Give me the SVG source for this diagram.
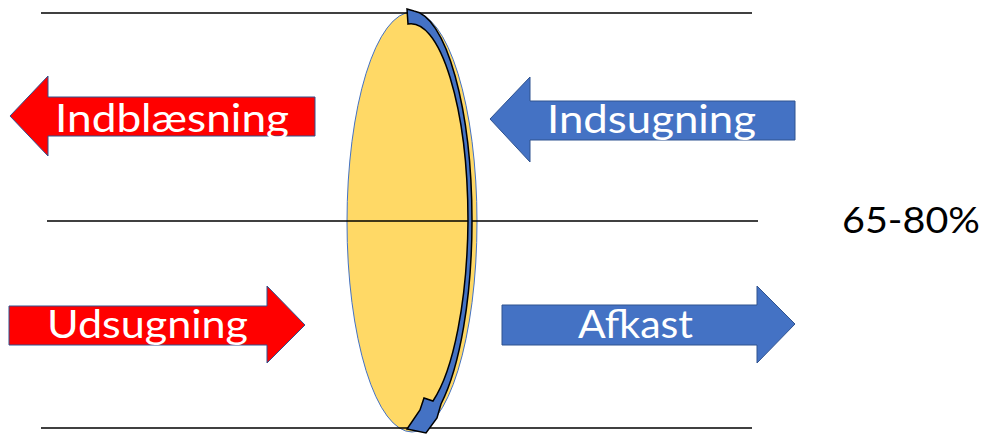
<svg xmlns="http://www.w3.org/2000/svg" width="987" height="435" viewBox="0 0 987 435">
<style>
.line{stroke:#000;stroke-width:1.3;fill:none}
.red{fill:#FF0000;stroke:#2F528F;stroke-width:1}
.blue{fill:#4472C4;stroke:#2F528F;stroke-width:1}
.lbl{font-family:Lato,"Open Sans",sans-serif;font-size:38px;fill:#fff}
.pct{font-family:Lato,"Open Sans",sans-serif;font-size:37px;fill:#000}
</style>
<rect width="987" height="435" fill="#fff"/>
<g id="lens">
<ellipse cx="412" cy="222" rx="65" ry="210" fill="#FFD966" stroke="#4472C4" stroke-width="1"/>
</g>
<g id="connectors">
<line class="line" x1="41" y1="13" x2="752" y2="13"/>
<line class="line" x1="47" y1="221" x2="758" y2="221"/>
<line class="line" x1="41" y1="428" x2="752" y2="428"/>
</g>
<g id="curved-arrow">
<path d="M407,9 L414,11 A61 211 0 0 1 472,221 A61 211 0 0 1 441,404 L437,418 L426,433 L407,429 L420,410 L424,398 L433,401 A57 202 0 0 0 468,221 A57 198 0 0 0 408,24 Z" fill="#4472C4" stroke="#000" stroke-width="1.5" stroke-linejoin="miter"/>
</g>
<g id="indblaesning">
<polygon class="red" points="10,116 48,76 48,97 315,97 315,136 48,136 48,156"/>
<text class="lbl" x="55" y="132" textLength="234" lengthAdjust="spacingAndGlyphs">Indblæsning</text>
</g>
<g id="indsugning">
<polygon class="blue" points="490,119 530,77 530,101 795,101 795,140 530,140 530,162"/>
<text class="lbl" x="547" y="133" textLength="209" lengthAdjust="spacingAndGlyphs">Indsugning</text>
</g>
<g id="udsugning">
<polygon class="red" points="9,306 267,306 267,286 305,325 267,363 267,345 9,345"/>
<text class="lbl" x="47" y="338" textLength="201" lengthAdjust="spacingAndGlyphs">Udsugning</text>
</g>
<g id="afkast">
<polygon class="blue" points="502,305 757,305 757,286 795,324 757,363 757,345 502,345"/>
<text class="lbl" x="578" y="338" textLength="115" lengthAdjust="spacingAndGlyphs">Afkast</text>
</g>
<g id="percent">
<text class="pct" x="842" y="233" textLength="138" lengthAdjust="spacingAndGlyphs">65-80%</text>
</g>
</svg>
